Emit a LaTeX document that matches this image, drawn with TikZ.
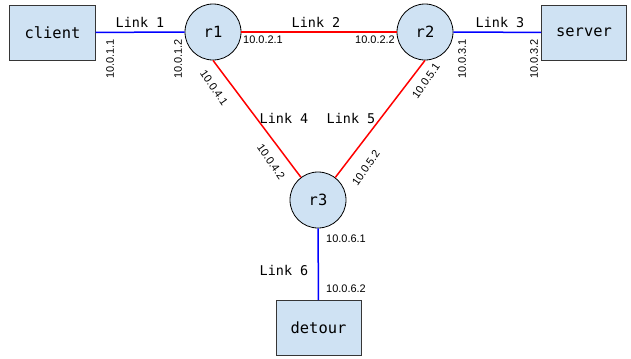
\documentclass[tikz,border=0pt]{standalone}
\usepackage{fontspec}
\setmainfont{Liberation Sans}
\setmonofont{DejaVu Sans Mono}
\definecolor{nodefill}{RGB}{207,226,243}
\definecolor{boxline}{RGB}{54,54,54}
\definecolor{linkblue}{RGB}{0,0,255}
\definecolor{linkred}{RGB}{255,0,0}
\begin{document}
\begin{tikzpicture}[x=1bp,y=-1bp,
  host/.style={draw=boxline,fill=nodefill,line width=1bp,minimum width=85bp,minimum height=55bp,inner sep=0pt,font=\ttfamily\fontsize{15.5}{17}\selectfont},
  router/.style={circle,draw=black,fill=nodefill,line width=0.8bp,minimum size=56bp,inner sep=0pt,font=\ttfamily\fontsize{15.5}{17}\selectfont},
  bluelink/.style={draw=linkblue,line width=1.5bp},
  redlink/.style={draw=linkred,line width=1.5bp},
  linklabel/.style={inner sep=0pt,font=\ttfamily\fontsize{13.5}{15}\selectfont},
  ip/.style={inner sep=0pt,font=\fontsize{11}{12}\selectfont}]
\useasboundingbox (0,0) rectangle (631,358);
\node[host] (client) at (52.5,32.5) {client};
\node[router] (r1) at (213,32) {r1};
\node[router] (r2) at (425,32) {r2};
\node[host] (server) at (584,32.5) {server};
\node[router] (r3) at (318,200) {r3};
\node[host] (detour) at (318.5,328) {detour};
\draw[bluelink] (client) -- (r1);
\draw[redlink] (r1) -- (r2);
\draw[bluelink] (r2) -- (server);
\draw[redlink] (r1.south) -- (r3);
\draw[redlink] (r2.south) -- (r3);
\draw[bluelink] (r3) -- (detour);
\node[linklabel] (l1) at (140,22) {Link 1};
\node[linklabel] (l2) at (316,22) {Link 2};
\node[linklabel] (l3) at (500,22) {Link 3};
\node[linklabel] (l4) at (284,118) {Link 4};
\node[linklabel] (l5) at (351,118) {Link 5};
\node[linklabel] (l6) at (284,270) {Link 6};
\node[ip,rotate=90] (a11) at (110,59) {10.0.1.1};
\node[ip,rotate=90] (a12) at (178,59) {10.0.1.2};
\node[ip] (a21) at (263,40) {10.0.2.1};
\node[ip] (a22) at (375,40) {10.0.2.2};
\node[ip,rotate=90] (a31) at (462,59) {10.0.3.1};
\node[ip,rotate=90] (a32) at (534,59) {10.0.3.2};
\node[ip,rotate=-55] (a41) at (214,88) {10.0.4.1};
\node[ip,rotate=-55] (a42) at (271,162) {10.0.4.2};
\node[ip,rotate=55] (a51) at (426,81) {10.0.5.1};
\node[ip,rotate=55] (a52) at (366,168) {10.0.5.2};
\node[ip] (a61) at (346,239) {10.0.6.1};
\node[ip] (a62) at (346,289) {10.0.6.2};
\end{tikzpicture}
\end{document}
